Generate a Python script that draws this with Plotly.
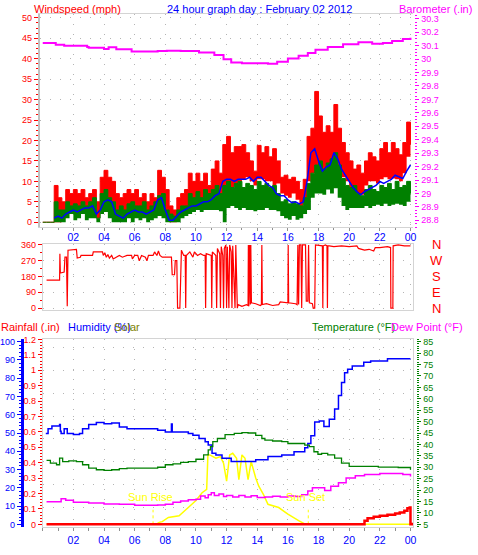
"""24 hour weather graph: wind / barometer, wind direction, rain / humidity / solar / temperature."""
import plotly.graph_objects as go

W, H = 478, 555
FONT = "Liberation Sans, Arial, sans-serif"

RED = "#ff0000"
BLUE = "#0000ff"
GREEN = "#008000"
MAGENTA = "#ff00ff"
YELLOW = "#ffff00"
OLIVE = "#808000"
GRID = "#b4b4b4"
FRAME = "#d4d4d4"
GRID_DASH = "1px,9px"

# x axis labels (hour of day)
hour_ticks = [2, 4, 6, 8, 10, 12, 14, 16, 18, 20, 22, 24]
hour_labels = ["02", "04", "06", "08", "10", "12", "14", "16", "18", "20", "22", "00"]

# ---- wind (mph), sampled every 15 minutes ----
wind_t = [i / 4 for i in range(97)]
gust_hi = [0, 0, 0, 9, 6, 5, 8, 7,
           8, 7, 8, 6, 7, 8, 5, 11,
           12.7, 11, 10, 7, 6, 7, 8, 7,
           8, 6, 7, 5, 7, 6, 12.7, 11,
           8, 4, 3, 6, 7, 8, 12, 10,
           12, 10, 12, 9, 13, 15, 12, 19,
           21, 17, 18.5, 18.5, 19, 17, 15, 12.5,
           18.8, 17, 18.5, 16, 18, 15, 11, 11.5,
           10.5, 11, 10, 8, 10.5, 21, 23, 32,
           26, 22, 23.6, 22, 28.8, 23, 19.5, 17,
           15, 13, 14, 12, 15, 17, 16, 15,
           18, 19.5, 17, 19.5, 18, 16.5, 19.5, 24.5,
           19]
gust_lo = [0, 0, 0, 0, 0, 1, 3, 2,
           3, 3, 3.5, 3, 3.5, 4, 1, 5,
           5, 5, 2, 1, 1, 0.5, 2, 3,
           2, 3, 2, 1.5, 2, 3, 4.5, 4,
           1, 0, 0, 1, 2, 3, 3.5, 4,
           4, 4.5, 4, 4.5, 5, 5, 5.5, 6,
           7, 8, 9, 10, 10.5, 11, 10, 9,
           10.5, 10.5, 10, 10, 9, 9.5, 7, 6.5,
           6, 7, 5.5, 3.5, 5, 10, 12, 12,
           13, 12.5, 14, 13, 14, 12, 11, 10,
           8, 7, 7, 6.7, 9, 10, 10, 9.5,
           10.5, 11, 10.5, 10.7, 10.5, 10, 12, 16,
           16.3]
speed_hi = [0, 0, 0, 5, 3, 3, 5, 4,
            4.5, 4, 5, 4, 5, 6, 1, 7,
            8, 6, 5, 3, 4, 3, 4.5, 5,
            4, 4, 5, 3, 4, 5, 6.5, 7,
            3, 2, 1.5, 3, 4, 4, 7, 6,
            7.5, 6, 8, 7, 8, 9, 7, 9,
            10, 8.5, 9.5, 10, 8.5, 9.5, 9, 8,
            10, 9, 9.5, 8.5, 9, 7, 5, 5.5,
            4.5, 5, 4.5, 4, 6, 9.5, 12, 14,
            15, 13, 14.5, 15.5, 17, 14, 10.7, 9,
            8.5, 9, 7, 6.5, 8, 9, 8, 7.5,
            9, 8.5, 9.5, 8, 10, 8.5, 9, 10,
            7]
speed_lo = [0, 0, 0, 0, 0, 0, 1, 2,
            0.5, 1, 2, 0.5, 1, 1, 0, 2,
            2.5, 1, 0, 0, 0, 0, 1, 0,
            1, 0.5, 1, 0, 0.5, 1, 1.5, 1,
            0, 0, 0, 0, 1, 1.5, 2, 2.5,
            3, 2.5, 3, 3, 3, 3, 2.7, 0,
            3.5, 4, 3.5, 3, 3.5, 3, 3, 2.7,
            3, 3, 3.5, 3, 3, 2.7, 1.5, 1,
            0.6, 1.5, 0.6, 1, 2, 3, 6, 7,
            7, 6.7, 8, 7, 8.3, 6, 4, 3,
            3.5, 3.5, 3.5, 3.5, 4, 3.5, 4, 4.3,
            4, 4.5, 4, 4.3, 4.5, 4.3, 4, 5,
            6]
wind_avg = [None, None, None, 1, 1.5, 1, 2, 2.5,
            3, 2.5, 3, 3.5, 3.5, 4, 2, 3,
            5, 5.5, 5, 2, 1.5, 1, 2, 2.5,
            3, 2.5, 2.5, 2, 2.5, 3, 5.5, 6,
            3, 0.5, 0.5, 1.5, 2.5, 3, 3.5, 4,
            4, 4.5, 5, 5, 5.5, 6.5, 7, 10,
            10.5, 10.5, 10, 10.5, 10.5, 10.5, 11, 10,
            11, 11, 10, 9, 8.5, 7, 6.5, 6.5,
            5.5, 4.8, 5, 4.5, 5, 10, 17, 18,
            15, 12.5, 13.5, 14, 17, 15.5, 13, 11.5,
            10, 8.5, 7.5, 6.7, 7.5, 8, 8.5, 9,
            10, 9.5, 10, 10.5, 11.5, 11, 10.7, 12.5,
            14]

# ---- barometer (in) ----
baro_t = [0, 0.8, 0.85, 1.4, 2.9, 3.0, 4.0, 4.3, 4.8, 5.8, 6.5, 7.5, 8.1, 9.0, 10.2, 11.2,
          11.8, 12.3, 13.0, 14.4, 14.7, 15.3, 16.0, 16.7, 17.3, 17.8, 18.6, 19.6, 20.6,
          21.5, 22.2, 22.8, 23.5, 24.0]
baro = [30.12, 30.12, 30.107, 30.10, 30.09, 30.085, 30.075, 30.088, 30.073, 30.056, 30.056,
        30.06, 30.063, 30.06, 30.05, 30.03, 30.0, 29.975, 29.97, 29.97, 29.965, 29.98, 30.005,
        30.025, 30.045, 30.07, 30.09, 30.11, 30.125, 30.115, 30.12, 30.135, 30.15, 30.16]

# ---- wind direction (degrees) ----
dir_t = [0.25, 1.1, 1.12, 1.15, 1.4, 1.45, 1.55, 1.6, 1.65, 2.2,
         2.25, 2.45, 2.5, 3.25, 3.3, 3.9, 3.95, 4.05, 4.15, 4.25,
         4.35, 4.5, 4.6, 4.8, 5.0, 5.2, 5.5, 5.8, 5.85, 6.0,
         6.2, 6.3, 6.45, 6.7, 6.8, 6.9, 7.2, 7.3, 7.45, 7.55,
         7.65, 7.8, 8.4, 8.45, 8.6, 8.65, 8.75, 8.8, 8.95, 9.0,
         9.05, 9.2, 9.3, 9.33, 9.37, 9.6, 9.8, 9.9, 10.1, 10.3,
         10.5, 10.6, 10.63, 10.67, 10.9, 11.0, 11.03, 11.07, 11.3, 11.35,
         11.4, 11.55, 11.6, 11.65, 11.75, 11.8, 11.85, 11.95, 12.0, 12.05,
         12.15, 12.2, 12.3, 12.35, 12.4, 12.55, 12.6, 12.7, 12.75, 13.0,
         13.3, 13.4, 13.42, 13.45, 13.5, 13.55, 13.58, 13.62, 13.9, 14.2,
         14.27, 14.3, 14.33, 14.6, 15.0, 15.4, 15.5, 15.9, 16.0, 16.02,
         16.05, 16.5, 16.6, 16.65, 16.7, 16.75, 16.85, 16.9, 16.95, 17.15,
         17.2, 17.3, 17.35, 17.4, 17.6, 17.65, 17.75, 17.8, 18.1, 18.25,
         18.28, 18.31, 18.45, 18.55, 18.58, 18.61, 18.7, 19.0, 19.5, 20.0,
         20.5, 20.6, 21.0, 21.3, 21.6, 21.7, 22.0, 22.5, 22.7, 22.72,
         22.85, 22.87, 23.2, 23.6, 24.0]
dir_deg = [160, 160, 310, 200, 205, 290, 290, 10, 330, 335,
           285, 290, 300, 300, 320, 320, 300, 315, 290, 305,
           285, 300, 280, 290, 300, 290, 300, 300, 280, 300,
           300, 270, 300, 290, 270, 300, 300, 320, 300, 325,
           300, 290, 290, 190, 190, 270, 270, 0, 0, 160,
           330, 300, 300, 0, 300, 320, 290, 320, 300, 310,
           300, 300, 0, 310, 300, 300, 0, 320, 300, 0,
           340, 310, 0, 350, 300, 0, 340, 360, 0, 350,
           0, 360, 320, 0, 355, 0, 360, 0, 20, 10,
           20, 15, 360, 10, 360, 20, 360, 30, 25, 15,
           20, 360, 20, 25, 15, 20, 35, 30, 30, 360,
           30, 25, 20, 360, 20, 360, 360, 0, 360, 360,
           40, 40, 360, 30, 25, 0, 0, 360, 355, 355,
           0, 355, 360, 355, 0, 355, 355, 350, 355, 350,
           355, 340, 330, 335, 325, 345, 345, 350, 345, 0,
           0, 355, 360, 355, 355]
compass_deg = [360, 270, 180, 90, 0]
compass_lbl = ["N", "W", "S", "E", "N"]

# ---- bottom panel ----
temp_t = [0.25, 0.5, 0.9, 1.05, 1.1, 1.3, 1.7, 2.2, 2.6, 3.0, 3.5, 4.0, 4.5, 5.0, 5.5, 6.0,
          6.5, 7.0, 7.5, 8.0, 8.5, 9.0, 9.5, 10.0, 10.5, 10.8, 10.95, 11.1, 11.4, 11.9, 12.5,
          13.0, 13.4, 13.9, 14.3, 14.5, 15.0, 15.6, 16.0, 16.7, 17.1, 17.4, 17.7, 17.96, 18.2,
          18.4, 18.6, 19.05, 19.5, 20.0, 20.6, 21.9, 23.2, 24.0]
temp = [33.0, 31.8, 31.1, 31.1, 34.0, 32.5, 32.8, 32.5, 31.1, 29.6, 28.9, 28.6, 28.9, 29.4,
        29.6, 29.6, 29.6, 29.6, 30.0, 31.1, 31.5, 32.1, 32.5, 33.5, 35.4, 37.6, 39.0, 41.2,
        42.6, 44.3, 44.8, 45.2, 45.0, 44.0, 42.6, 41.9, 41.5, 41.2, 40.4, 40.4, 39.7, 39.0,
        36.8, 35.7, 36.1, 36.1, 35.4, 34.0, 31.8, 30.4, 30.4, 30.1, 29.9, 28.9]

dew_t = [0.25, 1.0, 1.2, 1.5, 2.0, 3.0, 4.0, 5.0, 6.0, 7.0, 7.5, 8.0, 8.5, 9.0, 9.5, 10.0,
         10.3, 10.6, 10.8, 11.0, 11.2, 11.5, 11.8, 12.0, 12.4, 12.8, 13.2, 13.6, 14.0, 14.5,
         15.0, 15.5, 16.0, 16.5, 16.9, 17.3, 17.6, 18.0, 18.4, 18.8, 19.3, 19.8, 20.4, 21.0,
         22.0, 23.0, 23.5, 24.0]
dew = [14.9, 14.9, 16.2, 15.5, 14.7, 14.4, 13.9, 13.8, 13.4, 13.4, 13.5, 13.8, 14.7, 15.2,
       15.8, 16.0, 17.4, 16.6, 18.0, 18.8, 17.6, 18.3, 17.2, 17.6, 17.0, 17.6, 17.0, 17.5,
       16.8, 17.0, 17.3, 17.0, 17.4, 17.2, 18.0, 19.6, 21.0, 21.0, 19.8, 21.7, 23.2, 25.3,
       26.3, 26.8, 27.3, 27.3, 26.8, 26.0]

hum_t = [0.2, 0.35, 0.6, 1.1, 1.15, 1.2, 1.4, 1.6, 2.0, 2.4, 2.6, 3.0, 3.5, 4.0, 4.5, 5.0,
         5.5, 6.0, 7.0, 7.5, 8.0, 8.35, 8.4, 8.45, 9.0, 9.5, 9.8, 10.2, 10.6, 10.8, 11.05,
         11.3, 11.7, 12.3, 13.0, 13.9, 14.7, 15.6, 16.4, 17.1, 17.3, 17.5, 17.75, 18.05,
         18.35, 18.7, 19.05, 19.3, 19.5, 19.7, 19.9, 20.2, 20.95, 21.4, 22.5, 24.0]
hum = [49.7, 52.4, 53.9, 54.6, 51.0, 49.7, 52.4, 49.7, 49.2, 49.7, 52.4, 54.6, 55.7, 55.1,
       55.5, 53.3, 52.4, 52.4, 52.4, 51.5, 50.6, 50.6, 55.0, 50.6, 50.6, 49.7, 48.8, 47.0,
       45.2, 43.4, 38.9, 38.0, 36.2, 34.4, 34.4, 35.3, 37.1, 38.0, 39.8, 42.0, 44.3, 48.5,
       56.0, 56.6, 53.5, 57.5, 63.2, 70.5, 77.7, 83.0, 84.9, 86.7, 88.8, 89.4, 90.6, 90.6]

solar_t = [0.25, 7.4, 7.6, 7.8, 8.2, 8.9, 9.5, 10.0, 10.4, 10.7, 10.78, 10.9, 11.3, 11.6,
           11.8, 12.0, 12.2, 12.4, 12.65, 12.8, 13.0, 13.2, 13.4, 13.6, 13.9, 14.1, 14.4,
           14.7, 15.4, 16.0, 16.7, 17.1, 24.0]
solar = [0, 0, 11, 15, 38, 47, 92, 131, 173, 191, 380, 380, 362, 371, 335, 236, 380, 389,
         362, 245, 380, 362, 245, 344, 254, 209, 164, 110, 92, 56, 20, 2, 0]
sun_rise, sun_set = 7.2, 17.33

rain_t = [0.25, 20.8, 21.0, 21.2, 21.6, 22.0, 22.5, 23.0, 23.3, 23.6, 23.8, 23.95, 24.0, 24.1]
rain = [0, 0, 0.024, 0.04, 0.049, 0.056, 0.062, 0.07, 0.077, 0.088, 0.105, 0.109, 0.0, 0.01]


def px(x):
    return x / W


def py(y):
    return 1 - y / H


def line(x, y, color, width, xa="x", ya="y", shape="hv", **kw):
    return go.Scatter(x=x, y=y, mode="lines", xaxis=xa, yaxis=ya,
                      line=dict(color=color, width=width, shape=shape),
                      hoverinfo="skip", showlegend=False, **kw)


fig = go.Figure()

# top panel: gust band, speed band, average, barometer
fig.add_trace(line(wind_t, gust_lo, RED, 0))
fig.add_trace(line(wind_t, gust_hi, RED, 1, fill="tonexty", fillcolor=RED))
fig.add_trace(line(wind_t, speed_lo, GREEN, 0))
fig.add_trace(line(wind_t, speed_hi, GREEN, 1, fill="tonexty", fillcolor=GREEN))
fig.add_trace(line(wind_t, wind_avg, BLUE, 1.5, shape="linear"))
fig.add_trace(line(baro_t, baro, MAGENTA, 2, ya="y2"))

# direction panel
fig.add_trace(line(dir_t, dir_deg, RED, 1.2, xa="x2", ya="y3", shape="linear"))

# bottom panel
fig.add_trace(line(solar_t, solar, YELLOW, 1.5, xa="x3", ya="y4", shape="linear"))
for t in (sun_rise, sun_set):
    fig.add_trace(go.Scatter(x=[t, t], y=[0, 80], mode="lines", xaxis="x3", yaxis="y4",
                             line=dict(color=YELLOW, width=1, dash="dot"),
                             hoverinfo="skip", showlegend=False))
fig.add_trace(line(rain_t, rain, RED, 2.5, xa="x3", ya="y5"))
fig.add_trace(line(hum_t, hum, BLUE, 1.5, xa="x3", ya="y6"))
fig.add_trace(line(temp_t, temp, GREEN, 1.3, xa="x3", ya="y7"))
fig.add_trace(line(dew_t, dew, MAGENTA, 1.5, xa="x3", ya="y7"))

tick9 = lambda c: dict(color=c, size=9, family=FONT)
grid = dict(showgrid=True, gridcolor=GRID, griddash=GRID_DASH, gridwidth=1)

x_common = dict(tickmode="array", tickvals=hour_ticks, ticktext=hour_labels,
                zeroline=False, showline=True, linecolor=FRAME, mirror=True, **grid)

fig.update_layout(
    width=W, height=H,
    margin=dict(l=0, r=0, t=0, b=0),
    paper_bgcolor="white", plot_bgcolor="white",
    showlegend=False,
    font=dict(family=FONT),
    xaxis=dict(domain=[px(40), px(416)], anchor="y", range=[-0.195, 24.19],
               tickfont=dict(color=BLUE, size=10.5), ticks="outside", ticklen=3,
               tickcolor="#909090", ticklabelstandoff=-3,
               minor=dict(dtick=1, ticks="outside", ticklen=2, tickcolor="#909090"),
               **x_common),
    yaxis=dict(domain=[py(226), py(10)], anchor="x", range=[-1.2, 50.97],
               tick0=0, dtick=5, tickfont=tick9(RED), ticks="outside", ticklen=4,
               tickcolor=RED,
               minor=dict(dtick=1.25, tick0=0, ticks="outside", ticklen=2, tickcolor=RED),
               showline=True, linecolor="#c0c0c0", linewidth=2, zeroline=False, **grid),
    yaxis2=dict(overlaying="y", side="right", anchor="free", position=px(417),
                range=[28.749, 30.337], tick0=28.8, dtick=0.1, tickfont=tick9(MAGENTA),
                ticks="outside", ticklen=4, tickcolor=MAGENTA,
                minor=dict(dtick=0.025, tick0=28.8, ticks="outside", ticklen=2,
                           tickcolor=MAGENTA),
                showgrid=False, zeroline=False),
    xaxis2=dict(domain=[px(43), px(416)], anchor="y3", range=[0, 24.19],
                showticklabels=False, ticks="", **x_common),
    yaxis3=dict(domain=[py(310), py(243)], anchor="x2", range=[-11.25, 365.6],
                tickvals=[0, 90, 180, 270, 360], tickfont=tick9(RED), ticks="outside",
                ticklen=4, tickcolor=RED,
                minor=dict(dtick=45, tick0=0, ticks="outside", ticklen=2, tickcolor=RED),
                showline=True, linecolor=FRAME, mirror=True, zeroline=False, **grid),
    xaxis3=dict(domain=[px(43), px(416)], anchor="y4", range=[0, 24.19],
                tickfont=dict(color=BLUE, size=10.5), ticks="outside", ticklen=3,
                tickcolor="#909090",
                minor=dict(dtick=1, ticks="outside", ticklen=3, tickcolor="#909090"),
                **x_common),
    yaxis4=dict(domain=[py(530), py(339)], anchor="x3", range=[-16.2, 1016.2],
                showticklabels=False, ticks="", tick0=92.5, dtick=125,
                showline=True, linecolor=FRAME, mirror=True, zeroline=False, **grid),
    yaxis5=dict(overlaying="y4", anchor="x3", side="left", range=[-0.0192, 1.2051],
                tick0=0, dtick=0.1, tickfont=tick9(RED), ticks="outside", ticklen=4,
                tickcolor=RED,
                minor=dict(dtick=0.02, tick0=0, ticks="outside", ticklen=2, tickcolor=RED),
                showgrid=False, zeroline=False),
    yaxis6=dict(overlaying="y4", anchor="free", position=px(22), side="left",
                range=[-1.62, 101.62], tick0=0, dtick=10, tickfont=tick9(BLUE),
                ticks="outside", ticklen=4, tickcolor=BLUE,
                minor=dict(dtick=2, tick0=0, ticks="outside", ticklen=2, tickcolor=BLUE),
                showline=True, linecolor=BLUE, linewidth=3, showgrid=False, zeroline=False),
    yaxis7=dict(overlaying="y4", anchor="free", position=px(419), side="right",
                range=[3.70, 86.3], tick0=5, dtick=5, tickfont=tick9(GREEN),
                ticks="outside", ticklen=4, tickcolor=GREEN,
                minor=dict(dtick=1, tick0=5, ticks="outside", ticklen=2, tickcolor=GREEN),
                showgrid=False, zeroline=False),
)


def label(text, x, y, color, anchor="left", size=11, yref="paper"):
    fig.add_annotation(text=text, x=x, y=y, xref="paper", yref=yref, xanchor=anchor,
                       yanchor="middle", showarrow=False,
                       font=dict(color=color, size=size, family=FONT))


label("Windspeed (mph)", px(32), py(5), RED)
label("24 hour graph day : February 02 2012", px(261), py(5), BLUE, anchor="center")
label("Barometer (.in)", px(477), py(5), MAGENTA, anchor="right")
label("Rainfall (.in)", px(-1), py(327), RED)
label("Humidity (%)", px(66), py(327), BLUE)
label("Solar", px(113), py(327), OLIVE)
label("Temperature (°F)", px(312), py(327), GREEN)
label("Dew Point (°F)", px(391), py(327), MAGENTA)
for deg, txt in zip(compass_deg, compass_lbl):
    label(txt, px(439), deg, RED, anchor="center", size=13, yref="y3")

for t, txt in ((sun_rise, "Sun Rise"), (sun_set, "Sun Set")):
    fig.add_annotation(text=txt, x=t - 0.15, y=150, xref="x3", yref="y4", showarrow=False,
                       xanchor="center", yanchor="middle",
                       font=dict(color=YELLOW, size=11, family=FONT))

# page body has a default margin; drop it so the figure sits at the window corner
fig.write_html("out.html", config={"displayModeBar": False},
               post_script="document.body.style.margin = '0';")
